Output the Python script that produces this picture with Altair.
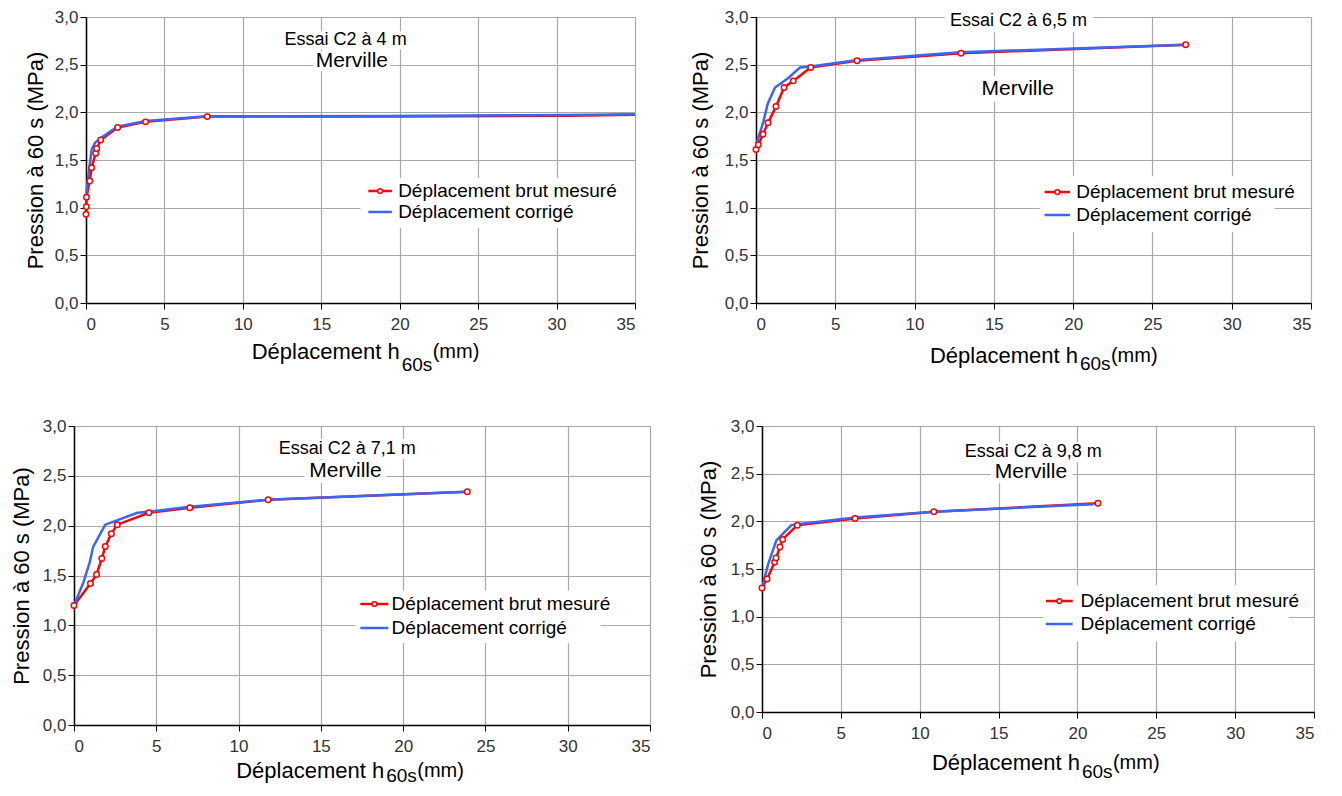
import altair as alt
import pandas as pd

# ---------------- data ----------------
# Panel 1 : Essai C2 à 4 m
p1_red_x = [0.0, 0.02, 0.03, 0.24, 0.36, 0.62, 0.68, 0.94, 2.02, 3.8, 7.73, 19.2, 30.7, 35.0]
p1_red_y = [0.93, 1.01, 1.11, 1.28, 1.42, 1.57, 1.62, 1.71, 1.84, 1.90, 1.955, 1.956, 1.965, 1.975]
p1_red_m = [1, 1, 1, 1, 1, 1, 1, 1, 1, 1, 1, 0, 0, 0]
p1_blue_x = [0.02, 0.15, 0.36, 0.57, 1.1, 2.0, 3.8, 7.7, 19.2, 30.7, 35.0]
p1_blue_y = [1.15, 1.33, 1.61, 1.68, 1.75, 1.85, 1.91, 1.958, 1.962, 1.972, 1.98]

# Panel 2 : Essai C2 à 6,5 m
p2_red_x = [0.0, 0.15, 0.44, 0.76, 1.26, 1.77, 2.35, 3.45, 6.37, 12.93, 27.1]
p2_red_y = [1.61, 1.66, 1.77, 1.89, 2.06, 2.26, 2.33, 2.47, 2.54, 2.62, 2.71]
p2_red_m = [1] * 11
p2_blue_x = [0.0, 0.04, 0.46, 0.74, 1.2, 2.04, 2.77, 3.45, 6.4, 12.9, 27.1]
p2_blue_y = [1.61, 1.67, 1.90, 2.09, 2.26, 2.36, 2.47, 2.48, 2.55, 2.63, 2.71]

# Panel 3 : Essai C2 à 7,1 m
p3_red_x = [0.0, 1.0, 1.37, 1.69, 1.9, 2.27, 2.63, 4.55, 7.04, 11.8, 23.9]
p3_red_y = [1.20, 1.42, 1.51, 1.67, 1.79, 1.92, 2.01, 2.13, 2.18, 2.26, 2.34]
p3_red_m = [1] * 11
p3_blue_x = [0.0, 0.57, 0.95, 1.17, 1.9, 3.85, 4.55, 7.04, 11.8, 23.9]
p3_blue_y = [1.20, 1.43, 1.63, 1.79, 2.01, 2.13, 2.14, 2.19, 2.26, 2.34]

# Panel 4 : Essai C2 à 9,8 m
p4_red_x = [0.0, 0.32, 0.8, 0.89, 1.14, 1.31, 2.24, 5.9, 10.9, 21.3]
p4_red_y = [1.30, 1.395, 1.57, 1.615, 1.73, 1.81, 1.96, 2.03, 2.10, 2.19]
p4_red_m = [1] * 10
p4_blue_x = [0.05, 0.38, 0.91, 1.86, 2.24, 5.9, 10.9, 21.0]
p4_blue_y = [1.33, 1.545, 1.80, 1.96, 1.97, 2.04, 2.10, 2.18]

x_ticks = [0, 5, 10, 15, 20, 25, 30, 35]
y_ticks = [0.0, 0.5, 1.0, 1.5, 2.0, 2.5, 3.0]

series_red = "Déplacement brut mesuré"
series_blue = "Déplacement corrigé"
y_title = "Pression à 60 s (MPa)"
site = "Merville"

FONT = "Liberation Sans"
RED = "#ff0000"
BLUE = "#3a66f5"


def panel(red_x, red_y, red_m, blue_x, blue_y, essai, w, h, ann):
    red = pd.DataFrame({"x": red_x, "y": red_y, "m": red_m})
    blue = pd.DataFrame({"x": blue_x, "y": blue_y})
    X = alt.X("x:Q", sort=None,
              scale=alt.Scale(domain=[0, 35], nice=False, zero=False),
              axis=alt.Axis(values=x_ticks, title=None, labelPadding=7,
                            format="d"))
    Y = alt.Y("y:Q",
              scale=alt.Scale(domain=[0, 3], nice=False, zero=False),
              axis=alt.Axis(values=y_ticks, title=y_title, labelPadding=2,
                            titlePadding=ann["tpad"],
                            labelExpr="replace(format(datum.value, '.1f'), '.', ',')"))

    boxes = pd.DataFrame(ann["boxes"], columns=["x", "x2", "y", "y2"])
    rects = alt.Chart(boxes).mark_rect(fill="white", strokeWidth=0).encode(
        x=X, x2="x2:Q", y=Y, y2="y2:Q")

    red_line = alt.Chart(red).mark_line(color=RED, strokeWidth=2.5).encode(x=X, y=Y)
    blue_line = alt.Chart(blue).mark_line(color=BLUE, strokeWidth=2.5).encode(x=X, y=Y)
    red_pts = alt.Chart(red).transform_filter("datum.m == 1").mark_point(
        filled=True, fill="white", stroke=RED, strokeWidth=1.5, size=30, opacity=1
    ).encode(x=X, y=Y)

    ex, ey, mx, my = ann["titles"]
    tt = pd.DataFrame({"x": [ex], "y": [ey], "t": [essai]})
    mt = pd.DataFrame({"x": [mx], "y": [my], "t": [site]})
    essai_txt = alt.Chart(tt).mark_text(font=FONT, fontSize=18, color="black").encode(
        x=X, y=Y, text="t:N")
    merv_txt = alt.Chart(mt).mark_text(font=FONT, fontSize=21, color="black").encode(
        x=X, y=Y, text="t:N")

    lx1, lx2, ltx, ly1, ly2 = ann["legend"]
    leg_rules = pd.DataFrame({"x": [lx1, lx1], "x2": [lx2, lx2], "y": [ly1, ly2]})
    leg_red = alt.Chart(leg_rules.iloc[[0]]).mark_rule(color=RED, strokeWidth=2.5).encode(
        x=X, x2="x2:Q", y=Y)
    leg_blue = alt.Chart(leg_rules.iloc[[1]]).mark_rule(color=BLUE, strokeWidth=2.5).encode(
        x=X, x2="x2:Q", y=Y)
    leg_pt = alt.Chart(pd.DataFrame({"x": [(lx1 + lx2) / 2], "y": [ly1]})).mark_point(
        filled=True, fill="white", stroke=RED, strokeWidth=1.5, size=22, opacity=1
    ).encode(x=X, y=Y)
    leg_txt = alt.Chart(pd.DataFrame({"x": [ltx, ltx], "y": [ly1, ly2],
                                      "t": [series_red, series_blue]})).mark_text(
        font=FONT, fontSize=19, align="left", baseline="middle", color="black"
    ).encode(x=X, y=Y, text="t:N")

    jx, my_, sy = ann["xtitle"]
    xt_main = alt.Chart(pd.DataFrame({"x": [jx], "y": [my_], "t": ["Déplacement h"]})).mark_text(
        font=FONT, fontSize=22, align="right", baseline="middle", color="black"
    ).encode(x=X, y=Y, text="t:N")
    xt_sub = alt.Chart(pd.DataFrame({"x": [jx], "y": [sy], "t": ["60s"]})).mark_text(
        font=FONT, fontSize=19, align="left", baseline="middle", dx=2, color="black"
    ).encode(x=X, y=Y, text="t:N")
    xt_mm = alt.Chart(pd.DataFrame({"x": [jx], "y": [my_], "t": ["(mm)"]})).mark_text(
        font=FONT, fontSize=20, align="left", baseline="middle", dx=33, color="black"
    ).encode(x=X, y=Y, text="t:N")

    return alt.layer(rects, red_line, blue_line, red_pts, essai_txt, merv_txt,
                     leg_red, leg_blue, leg_pt, leg_txt, xt_main, xt_sub, xt_mm
                     ).properties(width=w, height=h)


def spacer(w):
    # empty cell that only shifts the row to the right
    return alt.Chart(pd.DataFrame({"x": [0]})).mark_point(opacity=0, size=1).encode(
        x=alt.value(0), y=alt.value(0)).properties(width=w, height=1)


ann1 = {"boxes": [[12.7, 20.4, 2.66, 2.85], [14.5, 19.4, 2.43, 2.64], [17.5, 35.0, 0.79, 1.31]],
        "titles": [16.55, 2.76, 16.95, 2.54],
        "legend": [18.0, 19.5, 19.9, 1.175, 0.955],
        "xtitle": [20.0, -0.514, -0.65],
        "tpad": 7}
ann2 = {"boxes": [[11.9, 21.3, 2.84, 3.07], [13.8, 19.2, 2.11, 2.38], [17.9, 32.7, 0.745, 1.33]],
        "titles": [16.55, 2.96, 16.5, 2.245],
        "legend": [18.2, 19.8, 20.2, 1.164, 0.923],
        "xtitle": [20.3, -0.556, -0.64],
        "tpad": 12}
ann3 = {"boxes": [[11.9, 21.3, 2.67, 2.87], [14.0, 19.0, 2.43, 2.66], [17.1, 32.0, 0.82, 1.35]],
        "titles": [16.6, 2.77, 16.5, 2.55],
        "legend": [17.4, 19.1, 19.3, 1.214, 0.973],
        "xtitle": [18.85, -0.46, -0.51],
        "tpad": 9}
ann4 = {"boxes": [[12.6, 21.9, 2.62, 2.83], [14.5, 19.7, 2.40, 2.62], [17.8, 33.4, 0.74, 1.33]],
        "titles": [17.2, 2.73, 17.05, 2.52],
        "legend": [18.0, 19.7, 20.2, 1.164, 0.923],
        "xtitle": [20.16, -0.54, -0.63],
        "tpad": 10}

c1 = panel(p1_red_x, p1_red_y, p1_red_m, p1_blue_x, p1_blue_y, "Essai C2 à 4 m", 549, 286, ann1)
c2 = panel(p2_red_x, p2_red_y, p2_red_m, p2_blue_x, p2_blue_y, "Essai C2 à 6,5 m", 555, 286, ann2)
c3 = panel(p3_red_x, p3_red_y, p3_red_m, p3_blue_x, p3_blue_y, "Essai C2 à 7,1 m", 576, 299, ann3)
c4 = panel(p4_red_x, p4_red_y, p4_red_m, p4_blue_x, p4_blue_y, "Essai C2 à 9,8 m", 552, 286, ann4)

row1 = alt.hconcat(spacer(15), alt.hconcat(c1, c2, spacing=49), spacing=0)
row2 = alt.hconcat(spacer(1), alt.hconcat(c3, c4, spacing=46), spacing=0)

chart = alt.vconcat(row1, row2, spacing=42).properties(
    padding=0
).configure_view(
    strokeWidth=0
).configure_axis(
    labelFont=FONT, labelFontSize=17, labelColor="#333333",
    titleFont=FONT, titleFontSize=22, titleFontWeight="normal", titleColor="black",
    domainColor="black", domainWidth=1.5, tickColor="black", tickSize=6,
    gridColor="#a8a8a8", gridWidth=1.2
)

chart.save("out.html", embed_options={"renderer": "svg", "actions": False})
